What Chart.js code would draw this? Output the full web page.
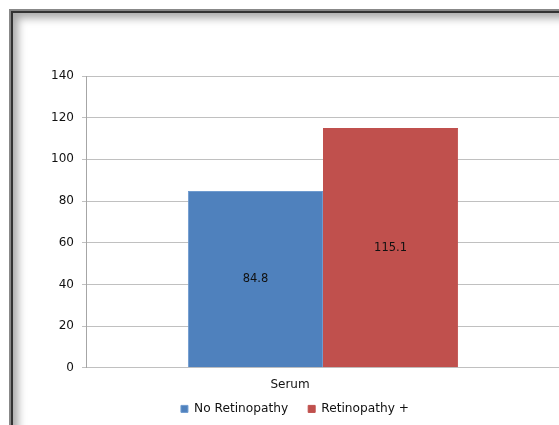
<!DOCTYPE html>
<html>
<head>
<meta charset="utf-8">
<script src="https://cdn.jsdelivr.net/npm/chart.js@4"></script>
<style>
html,body{margin:0;padding:0;background:#fff;}
#wrap{position:relative;width:559px;height:425px;overflow:hidden;}
#frame{position:absolute;left:9px;top:9px;width:700px;height:600px;border-left:2px solid #888;border-top:2px solid #888;pointer-events:none;}
#frame2{position:absolute;left:11px;top:11px;width:700px;height:600px;border-left:2px solid #333;border-top:2px solid #333;box-shadow:inset 5px 5px 8px rgba(0,0,0,0.35);pointer-events:none;}
canvas{position:absolute;left:0;top:0;}
</style>
</head>
<body>
<div id="wrap">
<canvas id="c" width="590" height="425"></canvas>
<div id="frame"></div>
<div id="frame2"></div>
</div>
<script>
const categories = ["Serum"];
const seriesNames = ["No Retinopathy", "Retinopathy +"];
const noRetinopathy = [84.8];
const retinopathyPlus = [115.1];
const yTicks = [0, 20, 40, 60, 80, 100, 120, 140];

const FONT = "'DejaVu Sans', sans-serif";

const valueLabels = {
  id: 'valueLabels',
  afterDatasetsDraw(chart) {
    const ctx = chart.ctx;
    ctx.save();
    ctx.font = "11.5px " + FONT;
    ctx.fillStyle = "#111";
    ctx.textAlign = "center";
    ctx.textBaseline = "middle";
    chart.data.datasets.forEach((ds, i) => {
      const meta = chart.getDatasetMeta(i);
      meta.data.forEach((bar, j) => {
        const y = (bar.y + bar.base) / 2;
        ctx.fillText(String(ds.data[j]), bar.x, y);
      });
    });
    ctx.restore();
  }
};

const legendShift = {
  id: 'legendShift',
  afterLayout(chart) {
    const lg = chart.legend;
    if (lg) { lg.left += 15; lg.right += 15; lg.top -= 12; lg.bottom -= 12; }
  }
};

new Chart(document.getElementById('c'), {
  type: 'bar',
  data: {
    labels: categories,
    datasets: [
      { label: seriesNames[0], data: noRetinopathy, backgroundColor: '#4F81BD', borderColor: '#6F9BCF', borderWidth: 1 },
      { label: seriesNames[1], data: retinopathyPlus, backgroundColor: '#C0504D', borderColor: '#C0504D', borderWidth: 1 }
    ]
  },
  options: {
    responsive: false,
    animation: false,
    devicePixelRatio: 1,
    layout: { padding: { left: 0, right: 30, top: 76, bottom: -12 } },
    datasets: { bar: { categoryPercentage: 0.57, barPercentage: 1.0 } },
    scales: {
      x: {
        grid: { display: false, drawTicks: false },
        border: { display: false },
        ticks: { color: '#111', font: { family: FONT, size: 12 }, padding: 10, labelOffset: -33 },
        afterFit(s) { s.height = 27; }
      },
      y: {
        min: 0, max: 140,
        afterBuildTicks(s) { s.ticks = yTicks.map(v => ({ value: v })); },
        grid: { color: '#C0C0C0', lineWidth: 1, tickLength: 4 },
        border: { color: '#A6A6A6', width: 1 },
        ticks: { color: '#111', font: { family: FONT, size: 12 }, padding: 8 },
        afterFit(s) { s.width = 86; }
      }
    },
    plugins: {
      legend: {
        position: 'bottom',
        labels: {
          font: { family: FONT, size: 12.2 },
          color: '#111',
          boxWidth: 7, boxHeight: 7,
          padding: 20
        }
      },
      tooltip: { enabled: false }
    }
  },
  plugins: [valueLabels, legendShift]
});
</script>
</body>
</html>
